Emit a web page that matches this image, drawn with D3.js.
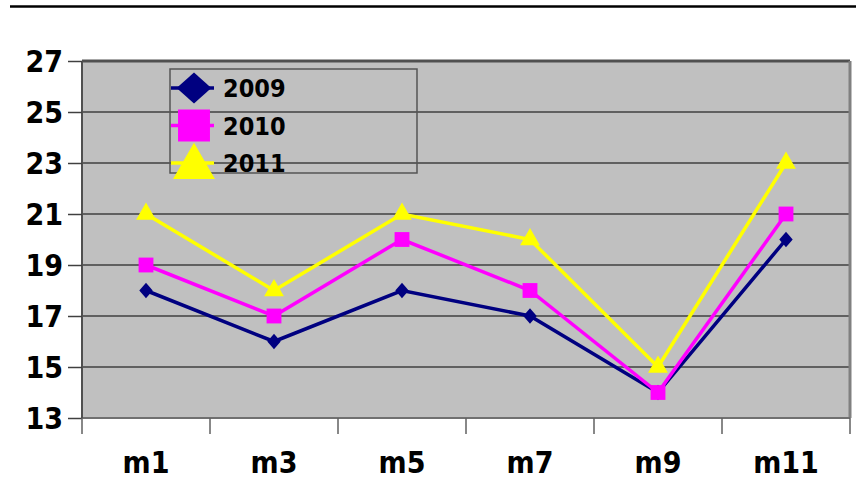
<!DOCTYPE html>
<html>
<head>
<meta charset="utf-8">
<script src="https://cdn.jsdelivr.net/npm/d3@7"></script>
<style>
  body { margin: 0; background: #fff; }
  text { font-family: "DejaVu Sans Condensed", "DejaVu Sans", sans-serif; font-stretch: condensed; font-weight: bold; fill: #000; }
</style>
</head>
<body>
<svg width="856" height="490"></svg>
<script>
var months = ["m1", "m3", "m5", "m7", "m9", "m11"];
var years = ["2009", "2010", "2011"];
var v2009 = [18, 16, 18, 17, 14, 20];
var v2010 = [19, 17, 20, 18, 14, 21];
var v2011 = [21, 18, 21, 20, 15, 23];
var yTicks = [13, 15, 17, 19, 21, 23, 25, 27];

var series = [
  {name: years[0], values: v2009, color: "#000080", shape: d3.symbolSquare},
  {name: years[1], values: v2010, color: "#ff00ff", shape: d3.symbolSquare},
  {name: years[2], values: v2011, color: "#ffff00", shape: d3.symbolTriangle}
];

var svg = d3.select("svg"),
    margin = {top: 61, right: 6, bottom: 72, left: 82},
    width = +svg.attr("width") - margin.left - margin.right,
    height = +svg.attr("height") - margin.top - margin.bottom;

var x = d3.scaleBand().domain(months).range([0, width]);
var y = d3.scaleLinear().domain([13, 27]).range([height, 0]);

// rule across the top
svg.append("line")
    .attr("x1", 10).attr("x2", 856)
    .attr("y1", 6.5).attr("y2", 6.5)
    .attr("stroke", "#000").attr("stroke-width", 2.5);

var g = svg.append("g")
    .attr("transform", "translate(" + margin.left + "," + margin.top + ")");

g.append("rect")
    .attr("width", width)
    .attr("height", height)
    .attr("fill", "#c0c0c0");

// gridlines
g.selectAll(".grid")
  .data(yTicks.slice(1, -1))
  .enter().append("line")
    .attr("x1", 0).attr("x2", width)
    .attr("y1", function(d) { return y(d); })
    .attr("y2", function(d) { return y(d); })
    .attr("stroke", "#404040").attr("stroke-width", 1.5);

// plot frame
g.append("line").attr("x1", 0).attr("x2", width).attr("y1", 0).attr("y2", 0)
    .attr("stroke", "#505050").attr("stroke-width", 3);
g.append("line").attr("x1", width).attr("x2", width).attr("y1", 0).attr("y2", height)
    .attr("stroke", "#808080").attr("stroke-width", 3);
g.append("line").attr("x1", 0).attr("x2", width).attr("y1", height).attr("y2", height)
    .attr("stroke", "#707070").attr("stroke-width", 2);
g.append("line").attr("x1", 0).attr("x2", 0).attr("y1", 0).attr("y2", height)
    .attr("stroke", "#505050").attr("stroke-width", 2);

// y axis
var yAxis = g.append("g")
    .call(d3.axisLeft(y).tickValues(yTicks).tickSize(14).tickPadding(5));
yAxis.select(".domain").remove();
yAxis.selectAll(".tick line").attr("stroke", "#404040").attr("stroke-width", 1.5);
yAxis.selectAll("text")
    .attr("fill", "#000")
    .style("font-size", "30px")
    .attr("dy", "0.36em");

// x axis: ticks between categories
var xAxis = g.append("g")
    .attr("transform", "translate(0," + height + ")");
xAxis.selectAll(".xt")
  .data(months.concat([null]))
  .enter().append("line")
    .attr("x1", function(d, i) { return i * x.bandwidth(); })
    .attr("x2", function(d, i) { return i * x.bandwidth(); })
    .attr("y1", 0).attr("y2", 16)
    .attr("stroke", "#606060").attr("stroke-width", 1.5);
xAxis.selectAll(".xl")
  .data(months)
  .enter().append("text")
    .attr("x", function(d) { return x(d) + x.bandwidth() / 2; })
    .attr("y", 55)
    .attr("text-anchor", "middle")
    .style("font-size", "30px")
    .text(function(d) { return d; });

// marker transform: first series is a square turned into a diamond
function markerTf(k, px, py, sx, sy) {
  if (k == 0) return "translate(" + px + "," + py + ") scale(" + sx + "," + sy + ") rotate(45)";
  return "translate(" + px + "," + py + ")";
}

// lines and markers
var line = d3.line()
    .x(function(d, i) { return x(months[i]) + x.bandwidth() / 2; })
    .y(function(d) { return y(d); });

var sizes = [90, 220, 170];
series.forEach(function(s, k) {
  g.append("path")
    .datum(s.values)
    .attr("fill", "none")
    .attr("stroke", s.color)
    .attr("stroke-width", 3.5)
    .attr("d", line);
  g.selectAll(".m" + k)
    .data(s.values)
    .enter().append("path")
      .attr("transform", function(d, i) {
        return markerTf(k, x(months[i]) + x.bandwidth() / 2, y(d), 1, 1.15);
      })
      .attr("d", d3.symbol().type(s.shape).size(sizes[k]))
      .attr("fill", s.color);
});

// legend
var legend = svg.append("g").attr("transform", "translate(170,69)");
legend.append("rect")
    .attr("width", 247).attr("height", 104)
    .attr("fill", "none")
    .attr("stroke", "#555").attr("stroke-width", 1.5);
var legSizes = [600, 1020, 760];
series.forEach(function(s, k) {
  var row = legend.append("g").attr("transform", "translate(0," + (19 + k * 37.5) + ")");
  row.append("line")
    .attr("x1", 1).attr("x2", 44)
    .attr("stroke", s.color).attr("stroke-width", 3.5);
  row.append("path")
    .attr("transform", markerTf(k, 24, k == 2 ? 4 : 0, 1, 0.9))
    .attr("d", d3.symbol().type(s.shape).size(legSizes[k]))
    .attr("fill", s.color);
  row.append("text")
    .attr("x", 53)
    .attr("dy", "0.36em")
    .style("font-size", "25px")
    .text(s.name);
});
</script>
</body>
</html>
